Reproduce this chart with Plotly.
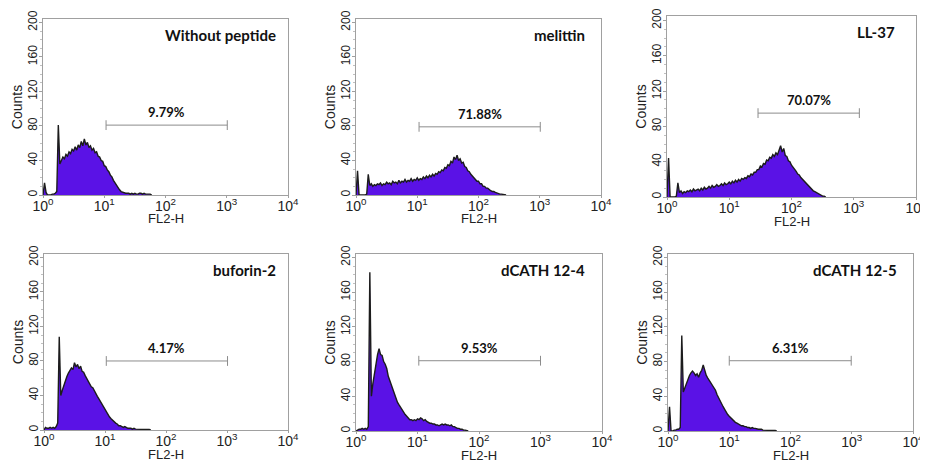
import math
import plotly.graph_objects as go
from plotly.subplots import make_subplots

W, H = 928, 471
PAGE_PAD = 8  # default body margin of the html page
FW, FH = W - PAGE_PAD, H - 2 * PAGE_PAD
STEP = 0.025  # channel width in log10(FL2-H) units

panel_names = ["Without peptide", "melittin", "LL-37", "buforin-2", "dCATH 12-4", "dCATH 12-5"]
gate_pct = ["9.79%", "71.88%", "70.07%", "4.17%", "9.53%", "6.31%"]
gate_lo = [10.7, 10.7, 29, 10.5, 10.5, 10]
gate_hi = [1020, 1020, 1230, 1020, 1000, 980]
gate_y = [81, 79, 95, 80, 81, 81]

# counts per channel, channel i sits at FL2-H = 10**(i*STEP)
counts_without = [0, 14, 3, 0, 0, 0, 1, 1, 2, 4, 81, 36, 40, 44, 42, 47, 45, 50, 48, 53,
                  51, 56, 52, 58, 55, 62, 57, 65, 58, 61, 55, 57, 52, 54, 49, 50, 45, 44, 40, 39,
                  34, 33, 29, 27, 23, 21, 17, 14, 11, 8, 6, 4, 3, 3, 2, 2, 2, 1, 2, 1,
                  2, 1, 1, 2, 2, 1, 2, 1, 1, 1, 1, 0]
counts_melittin = [0, 28, 0, 0, 0, 0, 0, 1, 24, 11, 13, 10, 12, 11, 13, 12, 14, 11, 13, 12,
                   15, 13, 14, 12, 16, 14, 15, 13, 17, 14, 16, 15, 18, 15, 17, 16, 19, 16, 18, 17,
                   20, 17, 19, 18, 21, 19, 22, 20, 23, 21, 24, 22, 25, 24, 27, 26, 29, 28, 32, 31,
                   35, 34, 39, 37, 44, 41, 46, 40, 42, 37, 38, 33, 32, 28, 27, 24, 22, 20, 19, 16,
                   16, 13, 13, 10, 10, 8, 8, 6, 5, 4, 4, 3, 2, 2, 1, 1, 1, 0.5, 0]
counts_ll37 = [0, 44, 0, 0, 0, 0, 1, 16, 5, 7, 4, 6, 5, 7, 6, 8, 6, 9, 7, 8,
               9, 7, 10, 8, 11, 9, 10, 12, 10, 13, 11, 12, 14, 12, 13, 15, 13, 16, 14, 15,
               17, 15, 18, 16, 19, 17, 20, 18, 21, 20, 22, 21, 24, 23, 26, 25, 28, 28, 31, 31,
               35, 34, 38, 37, 42, 41, 45, 44, 48, 46, 50, 48, 53, 58, 51, 55, 47, 46, 41, 40,
               36, 34, 31, 29, 26, 25, 22, 20, 18, 16, 14, 12, 10, 9, 7, 6, 5, 4, 3, 2,
               1, 1, 0]
counts_buforin = [0, 3, 2, 2, 3, 2, 3, 2, 4, 8, 108, 40, 46, 52, 57, 62, 66, 69, 72, 70,
                  78, 73, 76, 71, 74, 68, 67, 63, 60, 57, 54, 50, 49, 45, 42, 39, 36, 33, 29, 26,
                  23, 20, 17, 15, 13, 11, 10, 8, 7, 5, 5, 4, 3, 4, 3, 2, 2, 2, 1, 2,
                  1, 1, 1, 1, 1, 0.5, 0.5, 0.5, 0.5, 0.5, 0]
counts_dcath124 = [0, 1, 2, 2, 3, 2, 3, 2, 5, 183, 40, 55, 68, 80, 88, 95, 88, 87, 80, 77,
                   72, 63, 58, 51, 47, 41, 38, 33, 30, 27, 24, 21, 19, 17, 15, 13, 13, 12, 13, 12,
                   14, 13, 15, 14, 12, 13, 11, 10, 9, 9, 8, 8, 7, 7, 6, 7, 8, 7, 8, 7,
                   7, 6, 7, 5, 5, 4, 3, 3, 2, 2, 1, 1, 0.5, 0]
counts_dcath125 = [0, 28, 0, 0, 1, 1, 2, 2, 4, 110, 45, 50, 56, 60, 64, 67, 69, 67, 64, 66,
                   62, 67, 70, 76, 68, 64, 61, 58, 55, 52, 50, 47, 42, 38, 35, 31, 28, 25, 21, 19,
                   17, 15, 13, 11, 10, 9, 8, 7, 6, 6, 5, 5, 4, 4, 3, 4, 3, 3, 2, 2,
                   2, 2, 1, 1, 1, 1, 1, 0.5, 0.5, 0.5, 0.5, 0]

all_counts = [counts_without, counts_melittin, counts_ll37,
              counts_buforin, counts_dcath124, counts_dcath125]

x_ticks = [1, 10, 100, 1000, 10000]
x_ticktext = ["10<sup>0</sup>", "10<sup>1</sup>", "10<sup>2</sup>", "10<sup>3</sup>", "10<sup>4</sup>"]
y_ticks = [0, 40, 80, 120, 160, 200]

# plot boxes in window pixels: left, right, top, bottom
boxes = [(43, 288, 19, 195), (356, 601, 19, 195), (667, 916, 16, 197),
         (44, 288, 254, 430), (356, 602, 254, 431), (668, 913, 254, 431)]
y_tops = [204, 204, 205, 204, 204, 204]
title_dx = [10, 14, 19, 10, 15, 14]

PURPLE = "#5a12e6"
AXIS = "#a0a0a0"
TXT = "#222222"
SANS = "Liberation Sans"
BOLD = "Lato"

fig = make_subplots(rows=2, cols=3)

for k in range(6):
    n = k + 1
    sfx = "" if n == 1 else str(n)
    row, col = k // 3 + 1, k % 3 + 1
    c = all_counts[k]
    xs = [10 ** (i * STEP) for i in range(len(c))]
    fig.add_trace(go.Scatter(x=xs, y=c, mode="lines", fill="tozeroy", fillcolor=PURPLE,
                             line=dict(color="#1c1c1c", width=1.4), hoverinfo="skip"),
                  row=row, col=col)
    fig.add_trace(go.Scatter(x=[gate_lo[k], gate_hi[k]], y=[gate_y[k], gate_y[k]],
                             mode="lines+markers", line=dict(color="#8c8c8c", width=1),
                             marker=dict(symbol="line-ns", size=7, color="#8c8c8c",
                                         line=dict(color="#8c8c8c", width=1)),
                             hoverinfo="skip"),
                  row=row, col=col)

    l, r, t, b = [v - PAGE_PAD for v in boxes[k]]
    fig.layout["xaxis" + sfx].update(
        domain=[l / FW, min(r / FW, 1)], type="log", range=[0, 4], automargin=False,
        tickvals=x_ticks, ticktext=x_ticktext, showgrid=False, zeroline=False,
        showline=True, linecolor=AXIS, linewidth=1, mirror=True,
        ticks="outside", ticklen=2, tickcolor=AXIS, ticklabelstandoff=-4,
        ticklabeloverflow="allow",
        tickfont=dict(family=SANS, size=14, color=TXT),
    )
    fig.layout["yaxis" + sfx].update(
        domain=[1 - b / FH, 1 - t / FH], range=[0, y_tops[k]], automargin=False,
        tickvals=y_ticks, tickangle=-90, showgrid=False, zeroline=False,
        showline=True, linecolor=AXIS, linewidth=1, mirror=True,
        ticks="outside", ticklen=3, tickcolor=AXIS, ticklabelstandoff=-3,
        minor=dict(dtick=10, ticks="outside", ticklen=2, tickcolor="#c0c0c0"),
        tickfont=dict(family=SANS, size=12, color=TXT),
        title=dict(text="Counts", font=dict(family=SANS, size=14, color=TXT), standoff=0),
    )

    fig.add_annotation(text="FL2-H", xref=f"x{sfx} domain", yref=f"y{sfx} domain",
                       x=0.5, y=0, xanchor="center", yanchor="middle", yshift=-24,
                       showarrow=False, font=dict(family=SANS, size=13, color=TXT))
    fig.add_annotation(text=f"<b>{panel_names[k]}</b>", xref=f"x{sfx} domain", yref=f"y{sfx} domain",
                       x=1, y=1, xanchor="right", yanchor="middle",
                       xshift=-title_dx[k], yshift=-16, showarrow=False,
                       font=dict(family=BOLD, size=15, color="#111111"))
    mid = math.log10(math.sqrt(gate_lo[k] * gate_hi[k]))
    fig.add_annotation(text=f"<b>{gate_pct[k]}</b>", xref=f"x{sfx}", yref=f"y{sfx}",
                       x=mid, y=gate_y[k], xanchor="center", yanchor="bottom",
                       yshift=3, showarrow=False,
                       font=dict(family=BOLD, size=13, color="#111111"))

fig.update_layout(width=FW, height=FH, margin=dict(l=0, r=0, t=0, b=0),
                  paper_bgcolor="white", plot_bgcolor="white", showlegend=False)

fig.write_html("out.html")
